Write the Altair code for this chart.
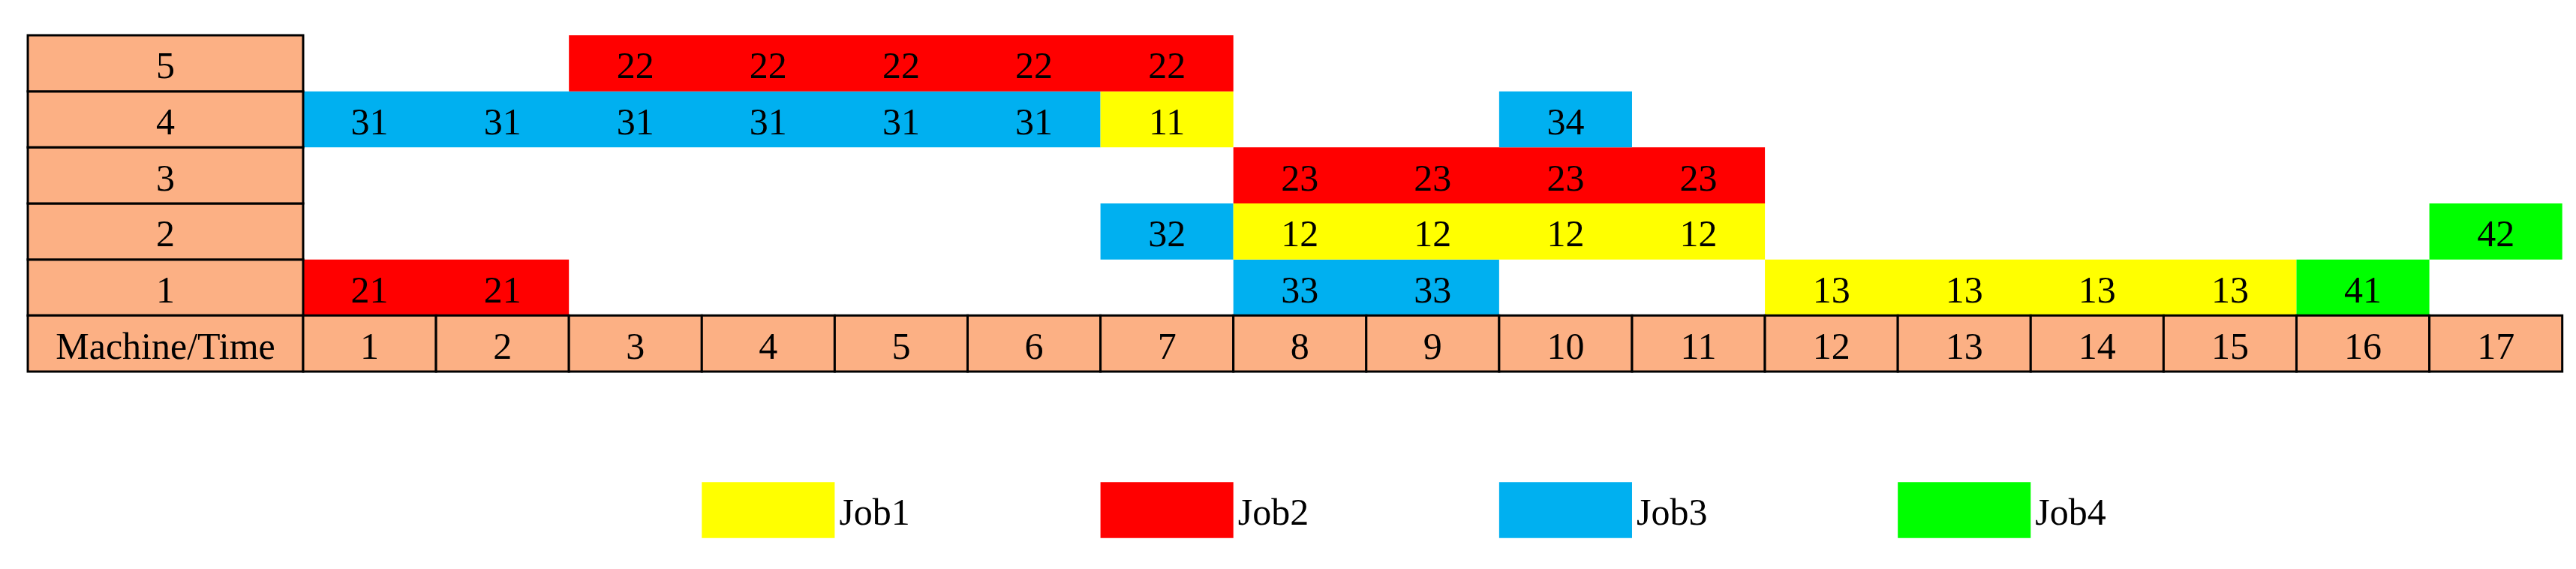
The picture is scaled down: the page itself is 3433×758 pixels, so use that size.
import altair as alt
import pandas as pd

# ---------------- data ----------------
machines = [1, 2, 3, 4, 5]
times = list(range(1, 18))
jobs = ["Job1", "Job2", "Job3", "Job4"]
job_colors = ["#FFFF00", "#FF0000", "#00B0F0", "#00FF00"]
corner_label = "Machine/Time"

op_labels = ["21", "33", "13", "41", "32", "12", "42", "23", "31", "11", "34", "22"]
op_machine = [1, 1, 1, 1, 2, 2, 2, 3, 4, 4, 4, 5]
op_start = [1, 8, 12, 16, 7, 8, 17, 8, 1, 7, 10, 3]
op_end = [2, 9, 15, 16, 7, 11, 17, 11, 6, 7, 10, 7]

# ---------------- layout / style ----------------
HEADER_FILL = "#FCB084"
FONT = "Liberation Serif"
FS = 50
HEAD_L = -2.072
X_MIN, X_MAX = -2.236, 17.047
Y_MIN, Y_MAX = -4.361, 5.522
LEG_Y0, LEG_Y1 = -3.97, -2.97
W, H = 3415, 738

xs = alt.Scale(domain=[X_MIN, X_MAX], nice=False, zero=False)
ys = alt.Scale(domain=[Y_MIN, Y_MAX], nice=False, zero=False)

# gantt blocks (one per operation) and per-time-unit labels
blocks = pd.DataFrame([dict(x=s - 1, x2=e, y=m - 1, y2=m, job="Job" + lab[0])
                       for lab, m, s, e in zip(op_labels, op_machine, op_start, op_end)])
rows = []
for lab, m, s, e in zip(op_labels, op_machine, op_start, op_end):
    for t in range(s, e + 1):
        rows.append(dict(label=lab, xc=t - 0.5, yc=m - 0.5))
cells = pd.DataFrame(rows)

# header column (machines + corner)
hc = [dict(x=HEAD_L, x2=0, y=m - 1, y2=m, label=str(m), xc=HEAD_L / 2, yc=m - 0.5) for m in machines]
hc.append(dict(x=HEAD_L, x2=0, y=-1, y2=0, label=corner_label, xc=HEAD_L / 2, yc=-0.5))
hcol = pd.DataFrame(hc)

# time header row
trow = pd.DataFrame([dict(x=t - 1, x2=t, y=-1, y2=0, label=str(t), xc=t - 0.5, yc=-0.5) for t in times])
heads = pd.concat([hcol, trow])

# legend
leg = pd.DataFrame([dict(x=3 + 3 * i, x2=4 + 3 * i, y=LEG_Y0, y2=LEG_Y1, job=j,
                         xt=4 + 3 * i, yc=(LEG_Y0 + LEG_Y1) / 2) for i, j in enumerate(jobs)])

color = alt.Color("job:N", scale=alt.Scale(domain=jobs, range=job_colors), legend=None)


def rect_enc():
    return dict(x=alt.X("x:Q", scale=xs, axis=None), x2="x2:Q",
                y=alt.Y("y:Q", scale=ys, axis=None), y2="y2:Q")


def text_enc(xf="xc:Q"):
    return dict(x=alt.X(xf, scale=xs, axis=None), y=alt.Y("yc:Q", scale=ys, axis=None))


gantt = alt.Chart(blocks).mark_rect(strokeWidth=0).encode(color=color, **rect_enc())
gantt_txt = alt.Chart(cells).mark_text(font=FONT, fontSize=FS, color="black", baseline="middle", dy=5).encode(
    text="label:N", **text_enc())

head_rects = alt.Chart(heads).mark_rect(
    fill=HEADER_FILL, stroke="black", strokeWidth=3).encode(**rect_enc())
head_txt = alt.Chart(heads).mark_text(
    font=FONT, fontSize=FS, color="black", baseline="middle", dy=5).encode(text="label:N", **text_enc())

leg_rect = alt.Chart(leg).mark_rect(strokeWidth=0).encode(color=color, **rect_enc())
leg_txt = alt.Chart(leg).mark_text(font=FONT, fontSize=FS, color="black", align="left",
                                   baseline="middle", dx=6, dy=5).encode(text="job:N", **text_enc("xt:Q"))

chart = alt.layer(gantt, head_rects, gantt_txt, head_txt, leg_rect, leg_txt).properties(
    width=W, height=H, padding=0,
    autosize=alt.AutoSizeParams(type="fit", contains="padding"),
).configure_view(stroke=None)

chart.save("out.html", embed_options={"renderer": "svg", "actions": False})
